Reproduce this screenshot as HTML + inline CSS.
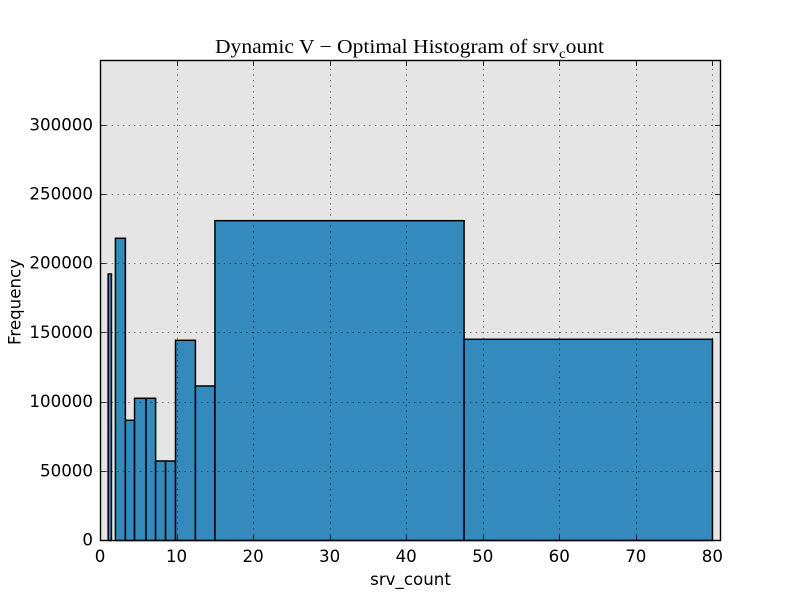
<!DOCTYPE html>
<html>
<head>
<meta charset="utf-8">
<style>
html,body{margin:0;padding:0;background:#fff;}
svg{display:block;}
text{fill:#000;font-family:"DejaVu Sans",sans-serif;font-size:16.67px;}
</style>
</head>
<body>
<svg id="chart" xmlns="http://www.w3.org/2000/svg" width="800" height="600" viewBox="0 0 800 600">
<rect x="100.5" y="60.5" width="620" height="480" fill="#e5e5e5"/>
<g id="bars"></g>
<g id="grid"></g>
<rect x="100.5" y="60.5" width="620" height="480" fill="none" stroke="#000" stroke-width="1.4"/>
<g id="ticks"></g>
<g id="labels"></g>
<text x="410.5" y="585" text-anchor="middle">srv_count</text>
<text transform="translate(20.5,302) rotate(-90)" text-anchor="middle">Frequency</text>
<text x="215" y="53" style="font-family:'Liberation Serif',serif;font-size:20px" textLength="389" lengthAdjust="spacingAndGlyphs">Dynamic V − Optimal Histogram of srv<tspan dy="5" style="font-size:14px">c</tspan><tspan dy="-5">ount</tspan></text>
</svg>
<script>
const binEdges = [1.0, 1.43, 1.95, 3.25, 4.45, 5.95, 7.2, 8.5, 9.8, 12.4, 14.95, 47.5, 79.95];
const frequencies = [192550, 0, 218350, 86850, 102750, 102750, 57440, 57440, 144650, 111630, 231070, 145370];
const xTicks = [0, 10, 20, 30, 40, 50, 60, 70, 80];
const yTicks = [0, 50000, 100000, 150000, 200000, 250000, 300000];
const xMax = 81;
const yMax = 346800;

const NS = 'http://www.w3.org/2000/svg';
const left = 100.5, right = 720.5, top_ = 60.5, bottom = 540.5;
function xScale(v) { return left + v / xMax * (right - left); }
function yScale(v) { return bottom - v / yMax * (bottom - top_); }
function make(tag, attrs, parent) {
  const el = document.createElementNS(NS, tag);
  for (const k in attrs) el.setAttribute(k, attrs[k]);
  parent.appendChild(el);
  return el;
}
const gridG = document.getElementById('grid');
const barsG = document.getElementById('bars');
const ticksG = document.getElementById('ticks');
const labelsG = document.getElementById('labels');
const gridStyle = { stroke: '#000', 'stroke-opacity': 0.65, 'stroke-width': 0.8, 'stroke-dasharray': '1.4 4.2', fill: 'none' };
const tickStyle = { stroke: '#000', 'stroke-width': 0.8 };

xTicks.forEach(function (t) {
  const x = Math.floor(xScale(t)) + 0.5;
  if (t > 0) {
    const g = make('line', Object.assign({ x1: x, x2: x, y1: bottom, y2: top_ }, gridStyle), gridG);
    
    
  }
  const t1 = make('line', Object.assign({ x1: x, x2: x, y1: bottom, y2: bottom - 5.5 }, tickStyle), ticksG);
  
  
  const t2 = make('line', Object.assign({ x1: x, x2: x, y1: top_, y2: top_ + 5.5 }, tickStyle), ticksG);
  
  
  const l = make('text', { x: xScale(t) - 0.5, y: 562, 'text-anchor': 'middle' }, labelsG);
  
  
  l.textContent = t;
});

yTicks.forEach(function (t) {
  const y = Math.floor(yScale(t)) + 0.5;
  if (t > 0) {
    const g = make('line', Object.assign({ x1: left, x2: right, y1: y, y2: y }, gridStyle), gridG);
    
    
  }
  const t1 = make('line', Object.assign({ x1: left, x2: left + 5.5, y1: y, y2: y }, tickStyle), ticksG);
  
  
  const t2 = make('line', Object.assign({ x1: right, x2: right - 5.5, y1: y, y2: y }, tickStyle), ticksG);
  
  
  const l = make('text', { x: 93, y: yScale(t) + 5, 'text-anchor': 'end' }, labelsG);
  
  
  l.textContent = t;
});

frequencies.forEach(function (f, i) {
  const x0 = xScale(binEdges[i]);
  const x1 = xScale(binEdges[i + 1]);
  const y = yScale(f);
  const r = make('rect', {
    x: x0, y: y, width: x1 - x0, height: bottom - y,
    fill: '#348abd', stroke: '#000', 'stroke-width': 1.5
  }, barsG);
  
  
});
</script>
</body>
</html>
